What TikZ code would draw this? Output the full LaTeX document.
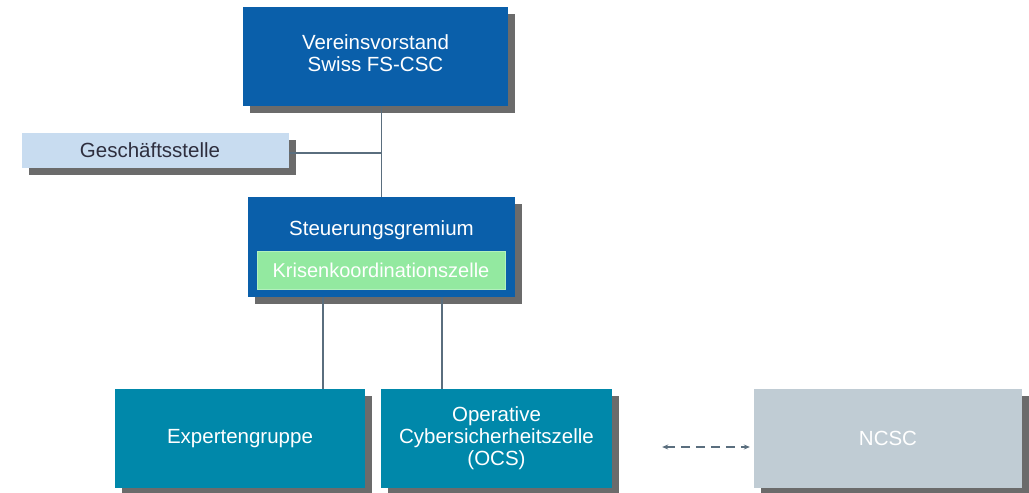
\documentclass[tikz,border=0pt]{standalone}
\usepackage{fontspec}
\setmainfont{Liberation Sans}
\usetikzlibrary{shadows,arrows.meta,calc}
\definecolor{vblue}{HTML}{0A5FAA}
\definecolor{lblue}{HTML}{C8DCF0}
\definecolor{kgreen}{HTML}{93E9A0}
\definecolor{teal}{HTML}{0088AA}
\definecolor{ngray}{HTML}{C0CCD4}
\definecolor{shgray}{HTML}{6B6B6B}
\definecolor{lgray}{HTML}{5A6E7E}
\definecolor{dtext}{HTML}{2E2E3E}
\tikzset{
  box/.style={rectangle, inner sep=0pt, align=center, font=\fontsize{20.5}{22}\selectfont,
    drop shadow={shadow xshift=7pt, shadow yshift=-7pt, fill=shgray, opacity=1}},
  conn/.style={draw=lgray, line width=1.6pt},
}
\begin{document}
\begin{tikzpicture}[x=1pt,y=-1pt]
\useasboundingbox (0,0) rectangle (1029,493);
\node[box, fill=vblue, text=white, minimum width=265pt, minimum height=99pt] (vv) at (375.5,56.5) {};
\node[font=\fontsize{20.5}{22}\selectfont, text=white, align=center, inner sep=0pt] (vvtext) at (375.5,53) {Vereinsvorstand\\Swiss FS-CSC};
\node[box, fill=lblue, minimum width=267pt, minimum height=35pt] (gs) at (155.5,150.5) {};
\node[font=\fontsize{20.5}{22}\selectfont, text=dtext, inner sep=0pt] (gstext) at (150,150.5) {Geschäftsstelle};
\node[box, fill=vblue, minimum width=267pt, minimum height=100pt] (steu) at (381.5,247) {};
\node[font=\fontsize{20.5}{22}\selectfont, text=white] (steutext) at (381.5,230) {Steuerungsgremium};
\node[rectangle, fill=kgreen, draw=kgreen!70!white, line width=0.6pt, text=white, minimum width=248pt, minimum height=38pt, inner sep=0pt, font=\fontsize{20}{22}\selectfont] (krise) at (381,270) {Krisenkoordinationszelle};
\node[box, fill=teal, text=white, minimum width=250pt, minimum height=99pt] (expert) at (240,438.5) {Expertengruppe};
\node[box, fill=teal, text=white, minimum width=231pt, minimum height=99pt] (ocs) at (496.5,438.5) {Operative\\Cybersicherheitszelle\\(OCS)};
\node[box, fill=ngray, text=white, minimum width=268pt, minimum height=99pt] (ncsc) at (888,438.5) {NCSC};
\coordinate (p1) at ($(steu.south west)!0.281!(steu.south east)$);
\coordinate (p2) at ($(steu.south west)!0.727!(steu.south east)$);
\draw[conn] (steu.north) -- (steu.north |- vv.south);
\draw[conn] ([yshift=-2.5pt]gs.east) -- ([yshift=-2.5pt]gs.east -| steu.north);
\draw[conn] (p1) -- (p1 |- expert.north);
\draw[conn] (p2) -- (p2 |- ocs.north);
\draw[draw=lgray, line width=1.5pt, dash pattern=on 9pt off 6pt, {Stealth[length=6pt,width=5pt]}-{Stealth[length=6pt,width=5pt]}, shorten <=50pt, shorten >=4pt] ([yshift=-8.5pt]ocs.east) -- ([yshift=-8.5pt]ncsc.west);
\end{tikzpicture}
\end{document}
